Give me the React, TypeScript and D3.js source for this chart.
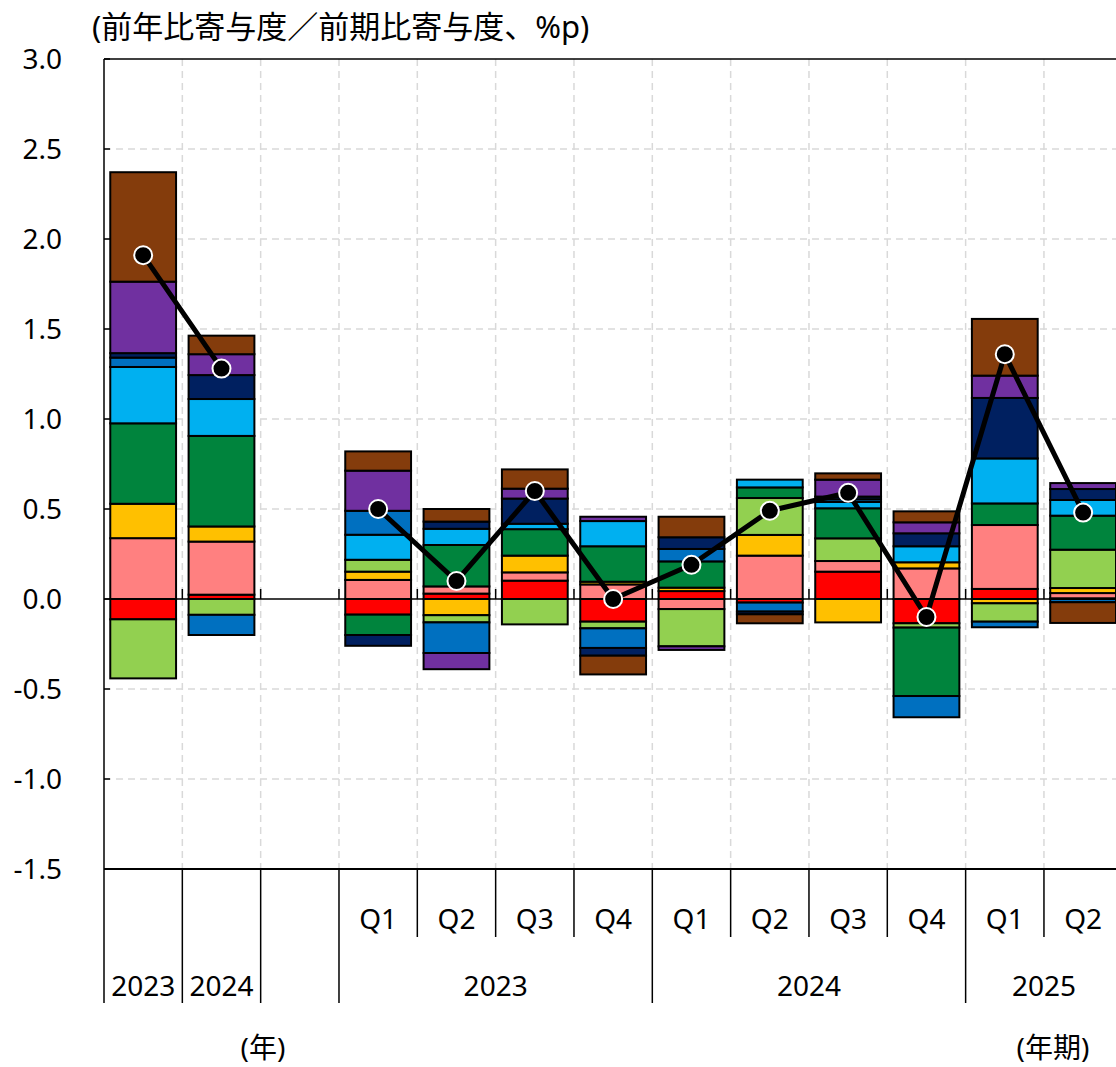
import React from "react";
import * as d3 from "d3";

const categories = ["A2023", "A2024", "GAP", "Q1-23", "Q2-23", "Q3-23", "Q4-23", "Q1-24", "Q2-24", "Q3-24", "Q4-24", "Q1-25", "Q2-25"];
const quarterLabels = ["", "", "", "Q1", "Q2", "Q3", "Q4", "Q1", "Q2", "Q3", "Q4", "Q1", "Q2"];
const annualLabels = ["2023", "2024"];
const groupLabels = [
  { label: "2023", from: 3, to: 7 },
  { label: "2024", from: 7, to: 11 },
  { label: "2025", from: 11, to: 13 },
];
const longSeparators = [0, 1, 2, 3, 7, 11];
const shortSeparators = [4, 5, 6, 8, 9, 10, 12];

const seriesKeys = ["red", "pink", "yellow", "lgreen", "green", "lblue", "blue", "navy", "purple", "brown"];
const seriesColors = ["#FF0000", "#FF8080", "#FFC000", "#92D050", "#00843D", "#00B0F0", "#0070C0", "#002060", "#7030A0", "#843C0C"];

const red = [-0.113, 0.024, 0, -0.087, 0.03, 0.102, -0.126, 0.044, -0.02, 0.152, -0.135, 0.056, 0.004];
const pink = [0.338, 0.295, 0, 0.106, 0.04, 0.046, 0.081, -0.056, 0.241, 0.059, 0.17, 0.355, 0.029];
const yellow = [0.191, 0.084, 0, 0.046, -0.09, 0.093, 0.015, 0.019, 0.115, -0.13, 0.034, -0.024, 0.028];
const lgreen = [-0.328, -0.088, 0, 0.066, -0.04, -0.141, -0.037, -0.207, 0.205, 0.126, -0.024, -0.102, 0.213];
const green = [0.447, 0.503, 0, -0.113, 0.23, 0.147, 0.197, 0.146, 0.059, 0.167, -0.38, 0.12, 0.189];
const lblue = [0.313, 0.205, 0, 0.139, 0.09, 0.03, 0.14, 0, 0.043, 0.035, 0.089, 0.25, 0.087];
const blue = [0.052, -0.112, 0, 0.133, -0.17, 0, -0.109, 0.069, -0.05, 0.015, -0.118, -0.031, -0.018];
const navy = [0.025, 0.133, 0, -0.06, 0.04, 0.14, -0.043, 0.065, -0.015, 0.015, 0.072, 0.336, 0.061];
const purple = [0.397, 0.116, 0, 0.223, -0.09, 0.055, 0.024, -0.02, 0, 0.094, 0.061, 0.124, 0.033];
const brown = [0.608, 0.103, 0, 0.107, 0.07, 0.107, -0.104, 0.114, -0.05, 0.035, 0.061, 0.315, -0.115];
const total = [1.91, 1.28, null, 0.5, 0.1, 0.6, 0.0, 0.19, 0.49, 0.59, -0.1, 1.36, 0.48];

const yTicks = [3.0, 2.5, 2.0, 1.5, 1.0, 0.5, 0.0, -0.5, -1.0, -1.5];

const seriesValues = [red, pink, yellow, lgreen, green, lblue, blue, navy, purple, brown];

export default function App() {
  const W = 1116;
  const H = 1067;
  const left = 104;
  const step = 78.33;
  const right = left + step * categories.length;
  const top = 59;
  const bottom = 869;

  const x = d3.scaleBand<string>().domain(categories).range([left, right]).padding(0);
  const y = d3.scaleLinear().domain([-1.5, 3.0]).range([bottom, top]);
  const bw = x.bandwidth() * 0.84;

  const rows = categories.map((c, i) => {
    const r: any = { cat: c };
    seriesKeys.forEach((k, j) => (r[k] = seriesValues[j][i]));
    return r;
  });
  const stack = d3.stack<any>().keys(seriesKeys).offset(d3.stackOffsetDiverging);
  const layers = stack(rows);

  const cx = (i: number) => (x(categories[i]) as number) + x.bandwidth() / 2;
  const bx = (i: number) => left + i * step;

  const lineGen = d3
    .line<number | null>()
    .defined((d) => d !== null)
    .x((_, i) => cx(i))
    .y((d) => y(d as number));

  const font = "'Noto Sans', 'Noto Sans CJK JP', sans-serif";
  const y0 = y(0);
  const fs = 28;

  return (
    <svg width={W} height={H} style={{ position: "absolute", left: 0, top: 0, background: "#fff" }} fontFamily={font}>
      <rect x={0} y={0} width={W} height={H} fill="#fff" />
      {/* grid */}
      {yTicks.filter((t) => t !== 0 && t !== -1.5 && t !== 3.0).map((t) => (
        <line key={"hg" + t} x1={left} x2={right} y1={y(t)} y2={y(t)} stroke="#d9d9d9" strokeWidth={1.5} strokeDasharray="7,5" />
      ))}
      {categories.map((_, i) => i > 0 ? (
        <line key={"vg" + i} x1={bx(i)} x2={bx(i)} y1={top} y2={bottom} stroke="#d9d9d9" strokeWidth={1.5} strokeDasharray="7,5" />
      ) : null)}
      <line x1={left} x2={right} y1={top} y2={top} stroke="#000" strokeWidth={1.5} />
      {/* bars */}
      {layers.map((layer, li) => (
        <g key={layer.key} fill={seriesColors[li]}>
          {layer.map((d, i) => {
            const h = Math.abs(y(d[0]) - y(d[1]));
            if (h < 0.01) return null;
            return (
              <rect key={i} x={cx(i) - bw / 2} width={bw} y={Math.min(y(d[0]), y(d[1]))} height={h} stroke="#000" strokeWidth={2} />
            );
          })}
        </g>
      ))}
      {/* zero line and ticks */}
      <line x1={left} x2={right} y1={y0} y2={y0} stroke="#000" strokeWidth={1.5} />
      {categories.map((_, i) => i > 0 ? (
        <line key={"zt" + i} x1={bx(i)} x2={bx(i)} y1={y0 - 10} y2={y0} stroke="#000" strokeWidth={1.5} />
      ) : null)}
      {/* axes */}
      <line x1={left} x2={left} y1={top} y2={bottom} stroke="#000" strokeWidth={1.5} />
      <line x1={left} x2={right} y1={bottom} y2={bottom} stroke="#000" strokeWidth={2} />
      {yTicks.map((t) => (
        <g key={"yt" + t}>
          <line x1={left} x2={left + 6} y1={y(t)} y2={y(t)} stroke="#000" strokeWidth={1.5} />
          <text x={62} y={y(t)} dy="0.35em" textAnchor="end" fontSize={fs}>{t.toFixed(1)}</text>
        </g>
      ))}
      {longSeparators.map((i) => (
        <line key={"ls" + i} x1={bx(i)} x2={bx(i)} y1={bottom} y2={1003} stroke="#000" strokeWidth={1.5} />
      ))}
      {shortSeparators.map((i) => (
        <line key={"ss" + i} x1={bx(i)} x2={bx(i)} y1={bottom} y2={937} stroke="#000" strokeWidth={1.5} />
      ))}
      {quarterLabels.map((q, i) => q ? (
        <text key={"q" + i} x={cx(i)} y={929} textAnchor="middle" fontSize={fs}>{q}</text>
      ) : null)}
      {annualLabels.map((a, i) => (
        <text key={"a" + i} x={cx(i)} y={996} textAnchor="middle" fontSize={fs}>{a}</text>
      ))}
      {groupLabels.map((g) => (
        <text key={"g" + g.label} x={(bx(g.from) + Math.min(bx(g.to), right)) / 2} y={996} textAnchor="middle" fontSize={fs}>{g.label}</text>
      ))}
      {/* line */}
      <path d={lineGen(total) || ""} fill="none" stroke="#000" strokeWidth={5} strokeLinejoin="round" />
      {total.map((v, i) => v !== null ? (
        <circle key={"m" + i} cx={cx(i)} cy={y(v)} r={9} fill="#000" stroke="#fff" strokeWidth={2} />
      ) : null)}
      {/* titles */}
      <text x={92} y={38} fontSize={31}>(前年比寄与度／前期比寄与度、%p)</text>
      <text x={263} y={1058} textAnchor="middle" fontSize={fs}>(年)</text>
      <text x={1053} y={1058} textAnchor="middle" fontSize={fs}>(年期)</text>
    </svg>
  );
}
